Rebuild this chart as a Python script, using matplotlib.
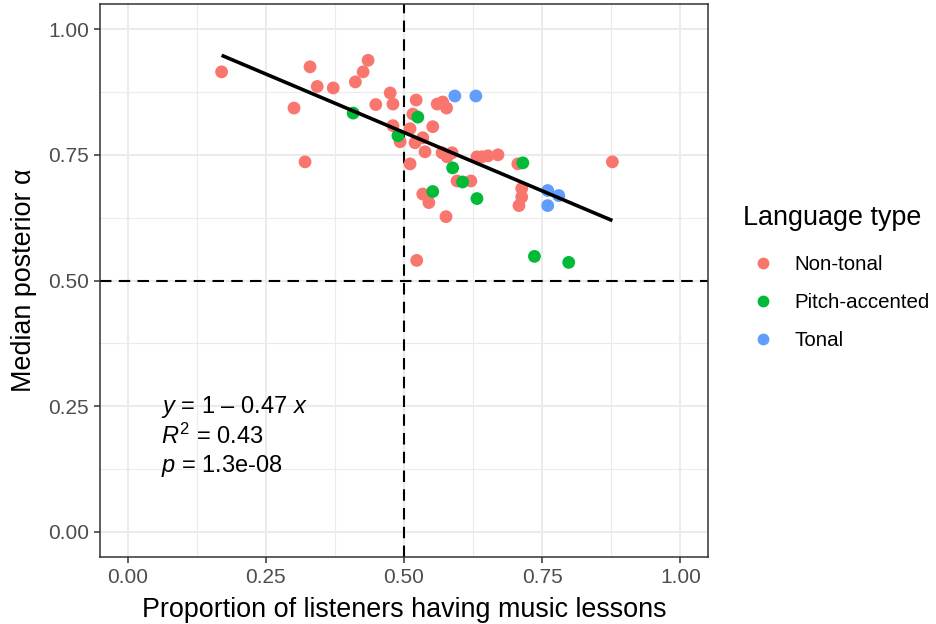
import numpy as np
import matplotlib
matplotlib.use("Agg")
import matplotlib.pyplot as plt
from matplotlib.lines import Line2D

plt.rcParams['font.family'] = ['Liberation Sans', 'DejaVu Sans']
plt.rcParams['mathtext.fontset'] = 'custom'
plt.rcParams['mathtext.rm'] = 'Liberation Sans'
plt.rcParams['mathtext.it'] = 'Liberation Sans:italic'

# data
nontonal_x = [0.170, 0.301, 0.321, 0.330, 0.343, 0.372, 0.412, 0.426, 0.435, 0.449,
              0.475, 0.480, 0.480, 0.493, 0.511, 0.511, 0.516, 0.522, 0.520, 0.534,
              0.538, 0.552, 0.523, 0.534, 0.545, 0.560, 0.570, 0.577, 0.569, 0.578,
              0.587, 0.576, 0.596, 0.621, 0.632, 0.641, 0.652, 0.670, 0.706, 0.713,
              0.713, 0.708, 0.877]
nontonal_y = [0.915, 0.843, 0.736, 0.925, 0.886, 0.883, 0.895, 0.915, 0.938, 0.850,
              0.873, 0.851, 0.808, 0.776, 0.802, 0.732, 0.831, 0.859, 0.774, 0.784,
              0.756, 0.806, 0.540, 0.672, 0.655, 0.851, 0.855, 0.843, 0.754, 0.746,
              0.754, 0.627, 0.698, 0.698, 0.746, 0.746, 0.748, 0.750, 0.732, 0.683,
              0.666, 0.649, 0.736]
pitch_x = [0.408, 0.525, 0.489, 0.588, 0.606, 0.552, 0.632, 0.715, 0.736, 0.798]
pitch_y = [0.833, 0.825, 0.788, 0.724, 0.696, 0.677, 0.663, 0.734, 0.548, 0.536]
tonal_x = [0.592, 0.630, 0.760, 0.780, 0.760]
tonal_y = [0.867, 0.867, 0.679, 0.669, 0.649]

groups = ['Non-tonal', 'Pitch-accented', 'Tonal']
colors = ['#F8766D', '#00BA38', '#619CFF']

# fitted line, as drawn
fit_intercept = 1.027
fit_slope = -0.465
fit_label = '$y$ = 1 \u2013 0.47 $x$\n$R^2$ = 0.43\n$p$ = 1.3e-08'

fig = plt.figure(figsize=(9.36, 6.24), dpi=100)
ax = fig.add_axes([100/936, 1-557/624, 608/936, 553/624])

ax.set_xlim(-0.05, 1.05)
ax.set_ylim(-0.05, 1.05)
ticks = [0, 0.25, 0.5, 0.75, 1.0]
ax.set_xticks(ticks)
ax.set_yticks(ticks)
ax.set_xticklabels(['%.2f' % t for t in ticks])
ax.set_yticklabels(['%.2f' % t for t in ticks])
ax.set_xticks(np.arange(0.125, 1.0, 0.25), minor=True)
ax.set_yticks(np.arange(0.125, 1.0, 0.25), minor=True)
ax.tick_params(which='minor', length=0)
ax.tick_params(which='major', length=4, width=1.1, color='#333333',
               labelsize=15, labelcolor='#4D4D4D', pad=4)
ax.grid(which='major', color='#EBEBEB', linewidth=1.5, zorder=0)
ax.grid(which='minor', color='#EBEBEB', linewidth=0.8, zorder=0)
ax.set_axisbelow(True)
for s in ax.spines.values():
    s.set_color('#333333')
    s.set_linewidth(1.1)

ax.axhline(0.5, color='black', linewidth=1.5, dashes=(5.5, 3.5), zorder=2)
ax.axvline(0.5, color='black', linewidth=1.5, dashes=(5.5, 3.5), zorder=2)

xs = [nontonal_x, pitch_x, tonal_x]
ys = [nontonal_y, pitch_y, tonal_y]
for gx, gy, c in zip(xs, ys, colors):
    ax.scatter(gx, gy, s=85, color=c, edgecolors='none', zorder=3)

all_x = np.array(nontonal_x + pitch_x + tonal_x)
lx = np.array([all_x.min(), all_x.max()])
ax.plot(lx, fit_intercept + fit_slope * lx, color='black', linewidth=2.6,
        solid_capstyle='butt', zorder=4)

ax.text(0.06, 0.19, fit_label, fontsize=17, linespacing=1.2,
        ha='left', va='center', zorder=5)

ax.set_xlabel('Proportion of listeners having music lessons', fontsize=19.4, labelpad=7)
ax.set_ylabel('Median posterior \u03b1', fontsize=19.4, labelpad=8)

# legend
fig.text(743/936, 1-218/624, 'Language type', fontsize=19.4, ha='left', va='center')
handles = [Line2D([], [], marker='o', linestyle='none', markersize=8.5,
                  markerfacecolor=c, markeredgecolor='none') for c in colors]
leg = fig.legend(handles, groups, loc='upper left',
                 bbox_to_anchor=(722/936, 1-237/624), frameon=False,
                 fontsize=14.8, labelspacing=0.92,
                 handlelength=2.2, handletextpad=0.43)

fig.savefig('out.png', dpi=100)
